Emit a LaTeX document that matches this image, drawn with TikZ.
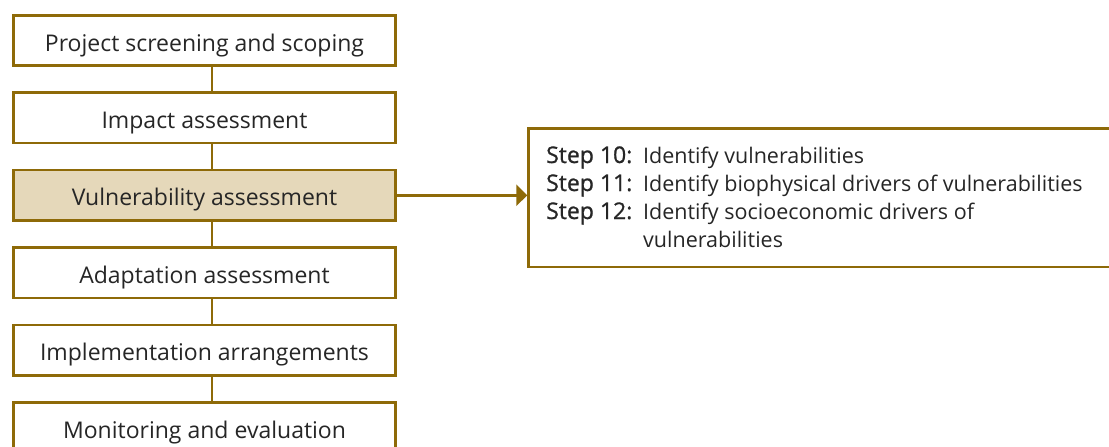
\documentclass[tikz,border=0pt]{standalone}
\usepackage{fontspec}
\setmainfont{Open Sans}
\newfontfamily\stepfont{Open Sans}[FakeBold=0.8]
\usetikzlibrary{arrows.meta,calc}
\definecolor{gold}{RGB}{142,106,8}
\definecolor{sand}{RGB}{229,216,186}
\definecolor{ink}{RGB}{38,38,38}
\newcommand{\steplabel}[1]{{\stepfont\fontsize{23}{28}\selectfont Step #1:}}
\begin{document}
\begin{tikzpicture}[x=1pt,y=-1pt,
  stage/.style={draw=gold, line width=2.6pt, fill=white, minimum width=382.4pt,
    minimum height=50.4pt, inner sep=0pt, text=ink, text height=21pt, text depth=0pt,
    font=\fontsize{23}{28}\selectfont},
  current/.style={stage, fill=sand},
  link/.style={draw=gold, line width=2.6pt},
  detailbox/.style={draw=gold, line width=2.6pt, fill=white, anchor=north west,
    minimum width=620pt, minimum height=138.4pt, inner sep=0pt},
  steptext/.style={anchor=base west, inner sep=0pt, text=ink, align=left,
    font=\fontsize{21.5}{28}\selectfont}]
  \clip (0,0) rectangle (1109,447);
  \fill[white] (0,0) rectangle (1109,447);

  % process stages
  \node[stage]   (screen)  at (204.5,40.5)  {Project screening and scoping};
  \node[stage]   (impact)  at (204.5,117.9) {Impact assessment};
  \node[current] (vuln)    at (204.5,195.3) {Vulnerability assessment};
  \node[stage]   (adapt)   at (204.5,272.7) {Adaptation assessment};
  \node[stage]   (impl)    at (204.5,350.1) {Implementation arrangements};
  \node[stage]   (monitor) at (204.5,427.5) {Monitoring and evaluation};

  % vertical connectors run at a fixed x
  \coordinate (spine) at (212,0);
  \draw[link] (screen.south -| spine) -- (impact.north -| spine);
  \draw[link] (impact.south -| spine) -- (vuln.north -| spine);
  \draw[link] (vuln.south -| spine)   -- (adapt.north -| spine);
  \draw[link] (adapt.south -| spine)  -- (impl.north -| spine);
  \draw[link] (impl.south -| spine)   -- (monitor.north -| spine);

  % detail box for the vulnerability stage
  \node[detailbox] (steps) at (527.3,127.3) {};
  \node[steptext] (steplist) at (546,163) {%
    \begin{tabular}[t]{@{}p{97pt}@{}l@{}}
      \steplabel{10} & Identify vulnerabilities\\
      \steplabel{11} & Identify biophysical drivers of vulnerabilities\\
      \steplabel{12} & Identify socioeconomic drivers of\\
                     & vulnerabilities
    \end{tabular}};

  \draw[link, -{Triangle[length=11pt,width=21pt]}] (vuln.east) -- (vuln.east -| steps.west);
\end{tikzpicture}
\end{document}
